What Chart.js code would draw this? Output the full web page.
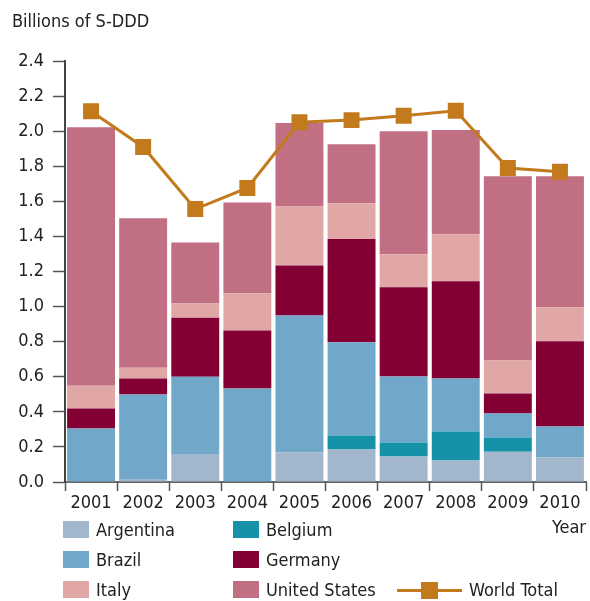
<!DOCTYPE html>
<html>
<head>
<meta charset="utf-8">
<script src="https://cdn.jsdelivr.net/npm/chart.js@4/dist/chart.umd.min.js"></script>
<style>
  html, body { margin: 0; padding: 0; background: #fff; }
  body { width: 590px; height: 601px; position: relative; overflow: hidden;
         font-family: 'Liberation Sans Narrow', 'DejaVu Sans Condensed', sans-serif; color: #222; }
  #wrap { position: absolute; left: 0; top: 0; width: 590px; height: 601px; }
  #ytitle { position: absolute; left: 12px; top: 11px; font-size: 18px; line-height: 20px; }
  .lg { position: absolute; font-size: 18px; line-height: 20px; height: 20px; white-space: nowrap; }
  .sw { position: absolute; width: 26px; height: 17px; }
  .lt { position: absolute; left: 33px; top: 0; }
</style>
</head>
<body>
<div id="wrap"><canvas id="chart" width="590" height="601"></canvas></div>
<div id="ytitle">Billions of S-DDD</div>
<div id="legend"></div>
<script>
// Категории и значения
const years = ['2001', '2002', '2003', '2004', '2005', '2006', '2007', '2008', '2009', '2010'];
const argentina = [0, 0.013, 0.156, 0, 0.168, 0.185, 0.145, 0.122, 0.173, 0.139];
const belgium = [0, 0, 0, 0, 0, 0.08, 0.08, 0.166, 0.08, 0];
const brazil = [0.305, 0.486, 0.444, 0.533, 0.781, 0.531, 0.377, 0.302, 0.137, 0.177];
const germany = [0.114, 0.091, 0.337, 0.33, 0.285, 0.589, 0.508, 0.555, 0.115, 0.486];
const italy = [0.13, 0.061, 0.08, 0.213, 0.337, 0.204, 0.189, 0.268, 0.188, 0.194];
const unitedStates = [1.474, 0.852, 0.349, 0.518, 0.475, 0.337, 0.701, 0.593, 1.05, 0.747];
const worldTotal = [2.114, 1.91, 1.556, 1.676, 2.051, 2.063, 2.088, 2.116, 1.79, 1.768];

const FONT = "'Liberation Sans Narrow', 'DejaVu Sans Condensed', sans-serif";
const colors = {
  argentina: '#a3b7cc',
  belgium: '#1592a8',
  brazil: '#71a7c9',
  germany: '#830035',
  italy: '#e0a7a6',
  us: '#c07082',
  world: '#c27a1c'
};

const barSet = (label, data, color) => ({
  type: 'bar',
  label: label,
  data: data,
  backgroundColor: color,
  borderWidth: 0,
  stack: 'countries',
  order: 1,
  barPercentage: 0.92,
  categoryPercentage: 1.0
});

new Chart(document.getElementById('chart'), {
  data: {
    labels: years,
    datasets: [
      {
        type: 'line',
        label: 'World Total',
        data: worldTotal,
        borderColor: colors.world,
        backgroundColor: colors.world,
        borderWidth: 3,
        pointStyle: 'rect',
        pointRadius: 11.3,
        pointBorderWidth: 0,
        pointBackgroundColor: colors.world,
        stack: 'total',
        order: 0,
        tension: 0
      },
      barSet('Argentina', argentina, colors.argentina),
      barSet('Belgium', belgium, colors.belgium),
      barSet('Brazil', brazil, colors.brazil),
      barSet('Germany', germany, colors.germany),
      barSet('Italy', italy, colors.italy),
      barSet('United States', unitedStates, colors.us)
    ]
  },
  options: {
    responsive: false,
    animation: false,
    layout: { autoPadding: false, padding: { top: 61, right: 4, left: 0, bottom: 0 } },
    plugins: {
      legend: { display: false },
      tooltip: { enabled: false },
      title: { display: false }
    },
    scales: {
      x: {
        stacked: true,
        offset: true,
        grid: {
          offset: true,
          drawOnChartArea: false,
          tickLength: 9,
          tickColor: '#555',
          tickWidth: 1.5
        },
        border: { color: '#666', width: 2 },
        ticks: {
          color: '#222',
          font: { family: FONT, size: 18 },
          padding: 2,
          autoSkip: false,
          maxRotation: 0
        },
        title: {
          display: true,
          text: 'Year',
          align: 'end',
          color: '#222',
          font: { family: FONT, size: 18 },
          padding: { top: 0, bottom: 62 }
        },
        afterFit: (scale) => {
          scale.height = 119;
          scale.paddingRight = 0;
        }
      },
      y: {
        stacked: true,
        min: 0,
        max: 2.4,
        grid: {
          drawOnChartArea: false,
          tickLength: 12,
          tickColor: '#555',
          tickWidth: 1.5
        },
        border: { color: '#444', width: 2 },
        ticks: {
          stepSize: 0.2,
          color: '#222',
          font: { family: FONT, size: 18 },
          padding: 9,
          callback: (v) => v.toFixed(1)
        },
        afterFit: (scale) => { scale.width = 65; }
      }
    }
  }
});

// Легенда: три строки, как на исходной картинке
const legendItems = [
  { label: 'Argentina', color: colors.argentina, x: 63, y: 521 },
  { label: 'Belgium', color: colors.belgium, x: 233, y: 521 },
  { label: 'Brazil', color: colors.brazil, x: 63, y: 551 },
  { label: 'Germany', color: colors.germany, x: 233, y: 551 },
  { label: 'Italy', color: colors.italy, x: 63, y: 581 },
  { label: 'United States', color: colors.us, x: 233, y: 581 }
];
const legend = document.getElementById('legend');
legendItems.forEach(it => {
  const el = document.createElement('div');
  el.className = 'lg';
  el.style.left = it.x + 'px';
  el.style.top = (it.y - 1) + 'px';
  el.innerHTML = '<div class="sw" style="left:0;top:1px;background:' + it.color + '"></div>' +
                 '<div class="lt">' + it.label + '</div>';
  legend.appendChild(el);
});
const wt = document.createElement('div');
wt.className = 'lg';
wt.style.left = '397px';
wt.style.top = '580px';
wt.innerHTML =
  '<div style="position:absolute;left:0;top:9px;width:65px;height:3px;background:' + colors.world + '"></div>' +
  '<div style="position:absolute;left:24px;top:2px;width:17px;height:17px;background:' + colors.world + '"></div>' +
  '<div style="position:absolute;left:72px;top:0">World Total</div>';
legend.appendChild(wt);
</script>
</body>
</html>
